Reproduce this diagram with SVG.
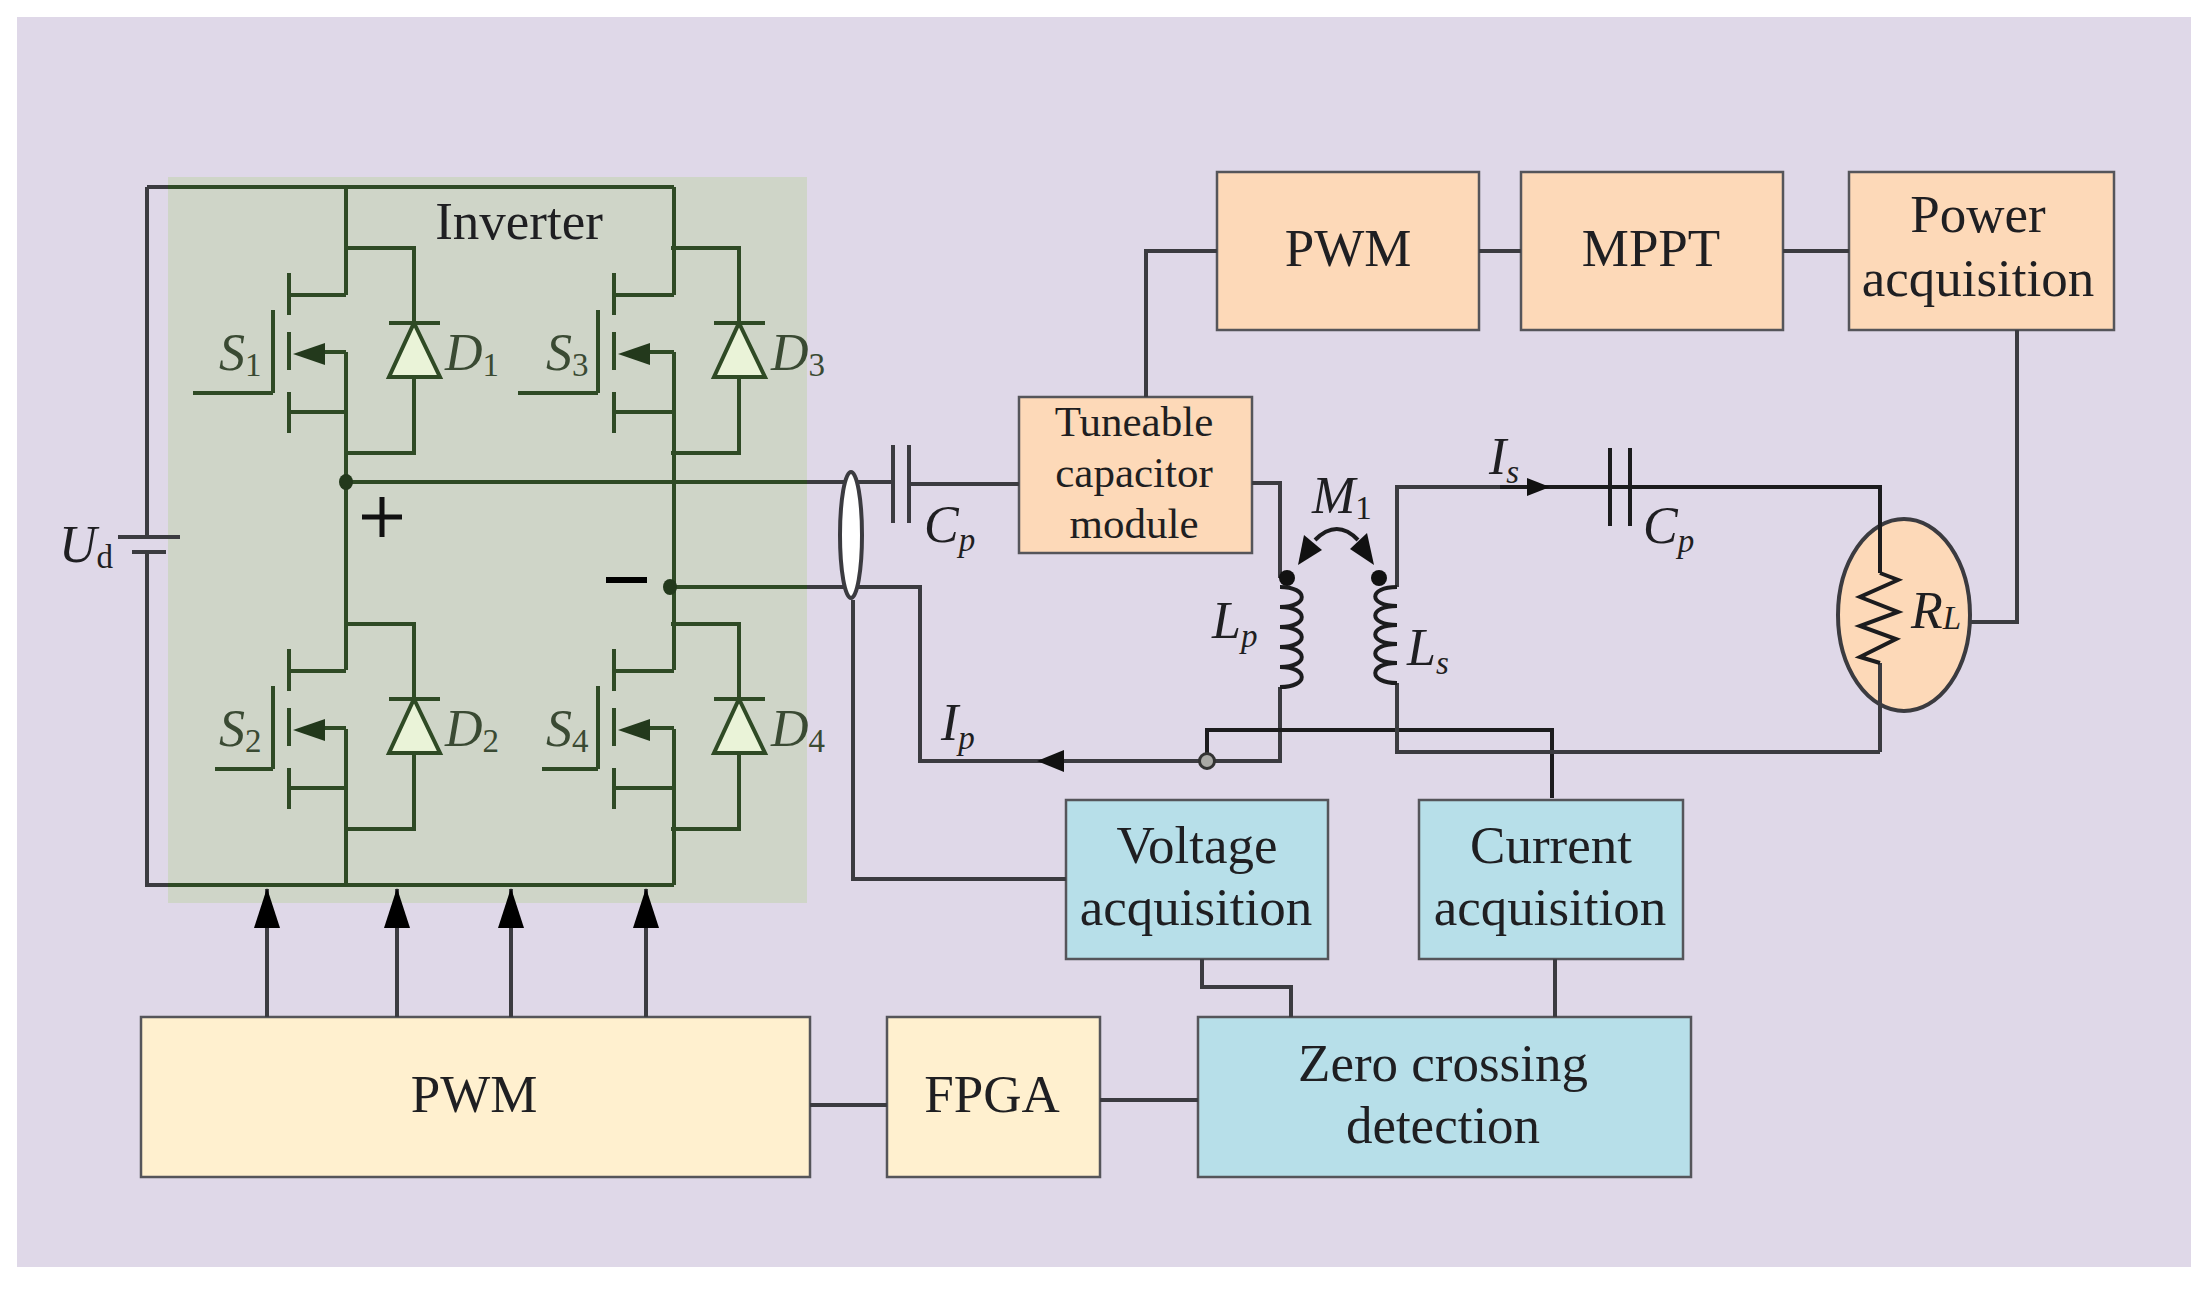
<svg xmlns="http://www.w3.org/2000/svg" xmlns:xlink="http://www.w3.org/1999/xlink" width="2208" height="1294" viewBox="0 0 2208 1294">
<style>
text{font-family:"Liberation Serif","Times New Roman",serif;fill:#1f1f22}
.t{font-size:53px;text-anchor:middle}
.s{font-size:43px;text-anchor:middle}
.m{font-size:52px;font-style:italic}
.g{fill:#3a4a33}
.sub{font-size:33px;font-style:normal}
.subi{font-size:33px;font-style:italic}
.box{stroke:#55555a;stroke-width:2.5}
.or{fill:#fdd9b8}.ye{fill:#fff0cf}.bl{fill:#b7dfe9}
.w{fill:none;stroke:#3b3b40;stroke-width:4}
.gw{fill:none;stroke:#2f4a25;stroke-width:4}
.k{fill:none;stroke:#1c1c1e;stroke-width:4}
</style>
<defs>
<marker id="up" markerUnits="userSpaceOnUse" markerWidth="40" markerHeight="28" refX="39" refY="14" orient="auto" viewBox="0 0 40 28"><path d="M40 14L0 1V27Z" fill="#000"/></marker>
<g id="sw">
<path class="gw" d="M346 295H289M289 273V315M289 332V370M289 392V433M289 412H346M273 310V393M346 352H322"/>
<path d="M293 354L325 343V365Z" fill="#23391c"/>
<path class="gw" d="M346 248H414V453H346"/>
<path d="M414 323L440 377H389Z" fill="#eaf3d8" stroke="#2f4a25" stroke-width="4"/>
<path class="gw" d="M389 323H440M414 300V323M414 377V400"/>
</g>
<path id="coilR" class="k" d="M0 0c29 0 29 20 0 20c29 0 29 20 0 20c29 0 29 20 0 20c29 0 29 20 0 20c29 0 29 20 0 20"/>
<path id="coilL" class="k" d="M0 0c-29 0-29 19 0 19c-29 0-29 19 0 19c-29 0-29 19 0 19c-29 0-29 19 0 19c-29 0-29 20 0 20"/>
</defs>
<rect width="2208" height="1294" fill="#fff"/>
<rect x="17" y="17" width="2174" height="1250" fill="#dfd8e8"/>
<rect id="inverter-bg" x="168" y="177" width="639" height="726" fill="#cfd5c8"/>

<g id="box-pwm-top"><rect class="box or" x="1217" y="172" width="262" height="158"/><text class="t" x="1348" y="266">PWM</text></g>
<g id="box-mppt"><rect class="box or" x="1521" y="172" width="262" height="158"/><text class="t" x="1651" y="266">MPPT</text></g>
<g id="box-power"><rect class="box or" x="1849" y="172" width="265" height="158"/><text class="t" x="1978" y="232">Power</text><text class="t" x="1978" y="296">acquisition</text></g>
<g id="box-tuneable"><rect class="box or" x="1019" y="397" width="233" height="156"/><text class="s" x="1134" y="436">Tuneable</text><text class="s" x="1134" y="487">capacitor</text><text class="s" x="1134" y="538">module</text></g>
<g id="box-voltage"><rect class="box bl" x="1066" y="800" width="262" height="159"/><text class="t" x="1197" y="863">Voltage</text><text class="t" x="1196" y="925">acquisition</text></g>
<g id="box-current"><rect class="box bl" x="1419" y="800" width="264" height="159"/><text class="t" x="1551" y="863">Current</text><text class="t" x="1550" y="925">acquisition</text></g>
<g id="box-zero"><rect class="box bl" x="1198" y="1017" width="493" height="160"/><text class="t" x="1443" y="1081">Zero crossing</text><text class="t" x="1443" y="1143">detection</text></g>
<g id="box-fpga"><rect class="box ye" x="887" y="1017" width="213" height="160"/><text class="t" x="992" y="1112">FPGA</text></g>
<g id="box-pwm"><rect class="box ye" x="141" y="1017" width="669" height="160"/><text class="t" x="474" y="1112">PWM</text></g>
<g id="load"><ellipse cx="1904" cy="615" rx="66" ry="96" fill="#fdd9b8" stroke="#3b3b40" stroke-width="4"/></g>

<g id="connectors">
<path class="gw" d="M147 187H674M346 187V295M674 187V295M346 352V670M674 352V670M346 729V885M674 729V885M147 885H674"/>
<path class="gw" d="M671 248H674M671 295H674M671 352H674M671 412H674M671 453H674M671 624H674M671 671H674M671 728H674M671 788H674M671 829H674"/>
<path class="w" d="M147 187H168M147 187V537M147 552V885H168"/>
<path class="w" d="M118 537H180M132 552H166" stroke-width="6"/>
<path class="gw" d="M346 482H807M670 587H807"/>
<path class="w" d="M807 482H893M909 484H1019M807 587H920V761H1280V687M1252 483H1280V578"/>
<path class="w" d="M893 445V523M909 445V523"/>
<path class="w" d="M853 600V879H1066"/>
<path class="k" d="M1207 761V730H1552V798"/>
<path class="w" d="M1397 587V487H1500M1880 752V663M1397 683V752H1880"/>
<path class="k" d="M1610 448V526M1630 448V526M1500 487H1880V573"/>
<path class="k" d="M1880 573L1898 580L1860 597L1898 612L1860 626L1896 639L1860 657L1880 663"/>
<path class="w" d="M1970 622H2017V330"/>
<path class="w" d="M1146 397V251H1217M1479 251H1521M1783 251H1849"/>
<path class="w" d="M1202 959V987H1291V1017M1555 959V1017M810 1105H887M1100 1100H1198"/>
<path class="w" marker-end="url(#up)" d="M267 1017V889"/>
<path class="w" marker-end="url(#up)" d="M397 1017V889"/>
<path class="w" marker-end="url(#up)" d="M511 1017V889"/>
<path class="w" marker-end="url(#up)" d="M646 1017V889"/>
<path d="M1037 761L1064 750V772Z" fill="#111"/>
<path d="M1550 487L1527 478V496Z" fill="#111"/>
<path class="k" d="M1315 540Q1337 518 1358 540"/>
<path d="M1298 565L1304 535L1322 550Z" fill="#111"/>
<path d="M1374 565L1367 533L1350 549Z" fill="#111"/>
<use xlink:href="#coilR" href="#coilR" x="1280" y="587"/>
<use xlink:href="#coilL" href="#coilL" x="1397" y="587"/>
</g>

<g id="switch-s1"><use xlink:href="#sw" href="#sw"/><path class="gw" d="M193 393H273"/><text class="m g" x="219" y="370">S<tspan class="sub" dy="6">1</tspan></text><text class="m g" x="445" y="370">D<tspan class="sub" dy="6">1</tspan></text></g>
<g id="switch-s3"><use xlink:href="#sw" href="#sw" x="325"/><path class="gw" d="M518 393H598"/><text class="m g" x="546" y="370">S<tspan class="sub" dy="6">3</tspan></text><text class="m g" x="771" y="370">D<tspan class="sub" dy="6">3</tspan></text></g>
<g id="switch-s2"><use xlink:href="#sw" href="#sw" y="376"/><path class="gw" d="M215 769H273"/><text class="m g" x="219" y="746">S<tspan class="sub" dy="6">2</tspan></text><text class="m g" x="445" y="746">D<tspan class="sub" dy="6">2</tspan></text></g>
<g id="switch-s4"><use xlink:href="#sw" href="#sw" x="325" y="376"/><path class="gw" d="M542 769H598"/><text class="m g" x="546" y="746">S<tspan class="sub" dy="6">4</tspan></text><text class="m g" x="771" y="746">D<tspan class="sub" dy="6">4</tspan></text></g>

<g id="junctions">
<ellipse cx="346" cy="482" rx="7" ry="8" fill="#23391c"/>
<ellipse cx="670" cy="587" rx="7" ry="8" fill="#23391c"/>
<circle cx="1287" cy="578" r="8" fill="#111"/>
<circle cx="1379" cy="578" r="8" fill="#111"/>
<circle cx="1207" cy="761" r="7.5" fill="#a9a9a5" stroke="#333" stroke-width="3"/>
</g>
<g id="current-sensor"><ellipse cx="851" cy="535" rx="11" ry="63" fill="#fff" stroke="#3b3b40" stroke-width="4"/></g>

<g id="labels">
<text class="t" x="519" y="239">Inverter</text>
<path d="M362 517H402M382 497V537" stroke="#111" stroke-width="5" fill="none"/>
<path d="M606 580H647" stroke="#000" stroke-width="6" fill="none"/>
<text class="m" x="59" y="562">U<tspan class="sub" dy="6">d</tspan></text>
<text class="m" x="924" y="542">C<tspan class="subi" dy="9">p</tspan></text>
<text class="m" x="1643" y="543">C<tspan class="subi" dy="9">p</tspan></text>
<text class="m" x="1312" y="513">M<tspan class="sub" dy="6">1</tspan></text>
<text class="m" x="1212" y="638">L<tspan class="subi" dy="9">p</tspan></text>
<text class="m" x="1407" y="665">L<tspan class="subi" dy="9">s</tspan></text>
<text class="m" x="941" y="740">I<tspan class="subi" dy="9">p</tspan></text>
<text class="m" x="1489" y="474">I<tspan class="subi" dy="9">s</tspan></text>
<text class="m" x="1911" y="628" font-size="48">R<tspan class="subi" font-size="26" dy="1">L</tspan></text>
</g>
</svg>
